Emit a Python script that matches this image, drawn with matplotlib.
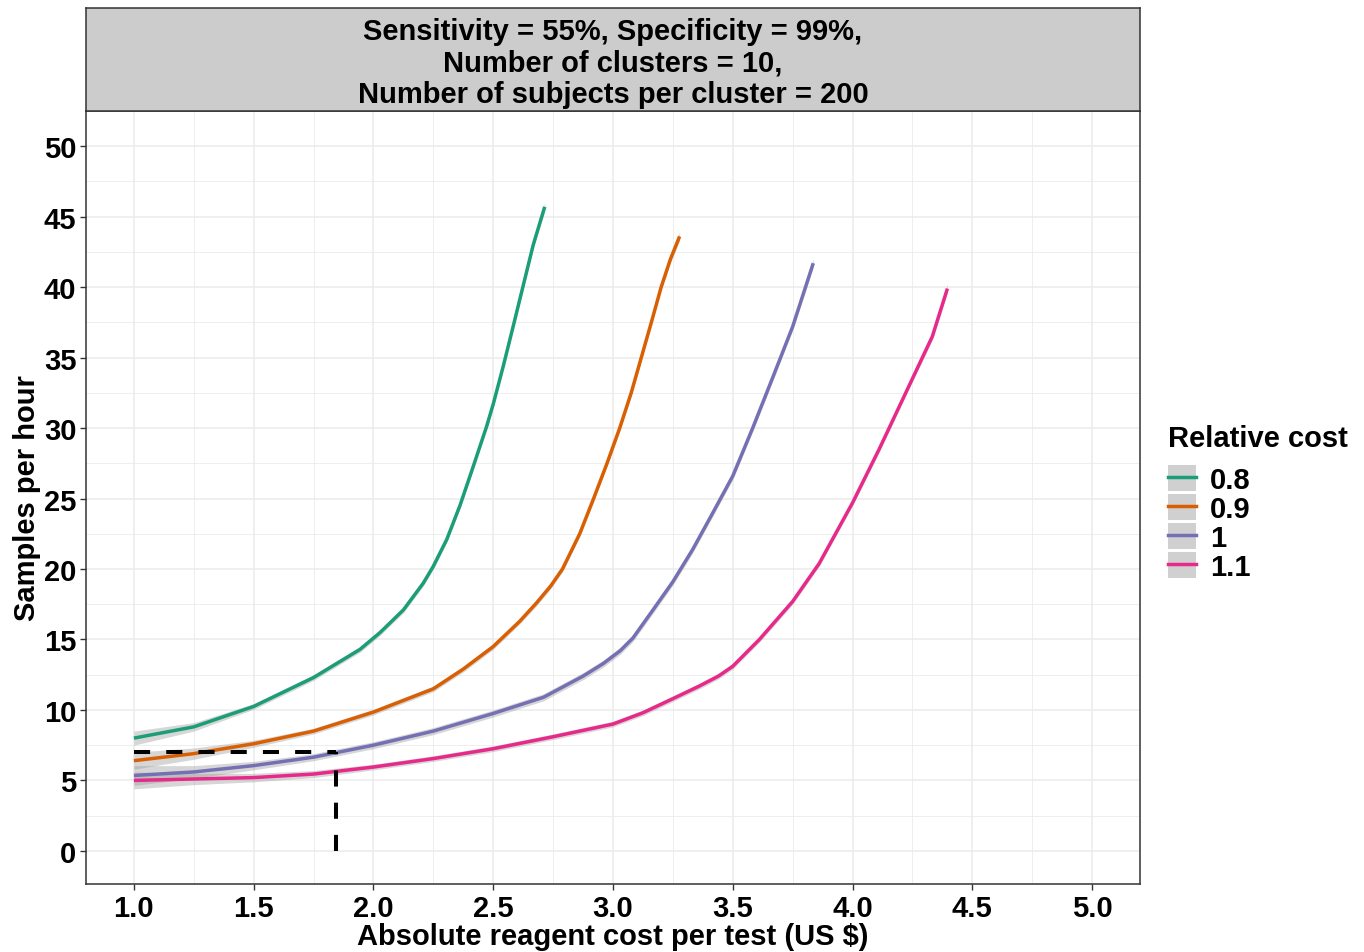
import numpy as np
import matplotlib.pyplot as plt
from matplotlib.lines import Line2D
from matplotlib.patches import Patch

plt.rcParams['font.family'] = ['Liberation Sans', 'DejaVu Sans']
plt.rcParams['font.weight'] = 'bold'

#----------------------------------
# Datos
#----------------------------------

labels = ["0.8", "0.9", "1", "1.1"]
colors = ["#1B9E77", "#D95F02", "#7570B3", "#E7298A"]

x_08 = [1.0, 1.25, 1.5, 1.75, 1.944, 2.028, 2.125, 2.208, 2.25, 2.306,
        2.361, 2.417, 2.472, 2.5, 2.542, 2.583, 2.625, 2.667, 2.715]
y_08 = [8.0, 8.8, 10.25, 12.3, 14.3, 15.5, 17.1, 19.0, 20.2, 22.1,
        24.5, 27.3, 30.1, 31.7, 34.4, 37.2, 40.1, 43.0, 45.7]
se_08 = [0.5, 0.3, 0.2, 0.2, 0.2, 0.2, 0.2, 0.2, 0.2, 0.2,
         0.2, 0.2, 0.2, 0.2, 0.2, 0.2, 0.2, 0.25, 0.3]

x_09 = [1.0, 1.25, 1.5, 1.75, 2.0, 2.25, 2.375, 2.5, 2.611, 2.681, 2.74, 2.789,
        2.861, 2.919, 2.975, 3.028, 3.076, 3.118, 3.160, 3.201, 3.24, 3.278]
y_09 = [6.4, 6.9, 7.6, 8.5, 9.85, 11.5, 12.9, 14.5, 16.3, 17.6, 18.8, 20.0,
        22.5, 25.0, 27.5, 30.0, 32.5, 35.0, 37.5, 40.0, 42.0, 43.6]
se_09 = [0.6, 0.4, 0.25, 0.2, 0.2, 0.2, 0.2, 0.2, 0.2, 0.2, 0.2, 0.2,
         0.2, 0.2, 0.2, 0.2, 0.2, 0.2, 0.2, 0.2, 0.25, 0.3]

x_10 = [1.0, 1.25, 1.5, 1.75, 2.0, 2.25, 2.5, 2.71, 2.875, 2.96, 3.03, 3.083,
        3.167, 3.25, 3.333, 3.417, 3.5, 3.583, 3.667, 3.75, 3.836]
y_10 = [5.35, 5.6, 6.05, 6.65, 7.5, 8.5, 9.75, 10.9, 12.4, 13.3, 14.2, 15.1,
        17.1, 19.1, 21.4, 24.0, 26.6, 30.0, 33.6, 37.2, 41.7]
se_10 = [0.7, 0.45, 0.3, 0.25, 0.25, 0.25, 0.25, 0.25, 0.25, 0.25, 0.25, 0.25,
         0.25, 0.25, 0.25, 0.25, 0.25, 0.25, 0.25, 0.25, 0.3]

x_11 = [1.0, 1.25, 1.5, 1.75, 2.0, 2.25, 2.5, 2.75, 3.0, 3.125, 3.25,
        3.361, 3.44, 3.5, 3.611, 3.75, 3.861, 4.0, 4.111, 4.222, 4.333, 4.396]
y_11 = [5.0, 5.1, 5.2, 5.45, 5.95, 6.55, 7.25, 8.1, 9.0, 9.8, 10.8,
        11.7, 12.4, 13.1, 15.0, 17.7, 20.4, 24.7, 28.5, 32.5, 36.5, 39.9]
se_11 = [0.6, 0.4, 0.3, 0.25, 0.2, 0.2, 0.2, 0.2, 0.2, 0.2, 0.2,
         0.2, 0.2, 0.2, 0.2, 0.2, 0.2, 0.2, 0.2, 0.2, 0.25, 0.3]

series_x = [x_08, x_09, x_10, x_11]
series_y = [y_08, y_09, y_10, y_11]
series_se = [se_08, se_09, se_10, se_11]

# linea de referencia
ref_cost = 1.845
ref_rate = 7.0

x_ticks = [1.0, 1.5, 2.0, 2.5, 3.0, 3.5, 4.0, 4.5, 5.0]
y_ticks = [0, 5, 10, 15, 20, 25, 30, 35, 40, 45, 50]

strip_text = ("Sensitivity = 55%, Specificity = 99%,\n"
              "Number of clusters = 10,\n"
              "Number of subjects per cluster = 200")

#----------------------------------
# Figura
#----------------------------------

W, H = 1364, 953
FS = 21
fig = plt.figure(figsize=(W / 100, H / 100), dpi=100)

left, right, top, bottom = 86, 1140, 112, 885
ax = fig.add_axes([left / W, (H - bottom) / H, (right - left) / W, (bottom - top) / H])
sax = fig.add_axes([left / W, (H - top) / H, (right - left) / W, (top - 9) / H])

for i in range(4):
    x = np.array(series_x[i])
    y = np.array(series_y[i])
    se = np.array(series_se[i])
    ax.fill_between(x, y - se, y + se, color="#999999", alpha=0.4, lw=0, zorder=2)
    ax.plot(x, y, color=colors[i], lw=2.5, zorder=3, solid_capstyle="butt",
            solid_joinstyle="round")

ax.plot([1.0, ref_cost], [ref_rate, ref_rate], color="black", lw=2.9,
        linestyle=(0, (4, 4)), zorder=4, dash_capstyle="butt")
ax.plot([ref_cost, ref_cost], [0, ref_rate], color="black", lw=2.9,
        linestyle=(0, (4, 4)), zorder=4, dash_capstyle="butt")

ax.set_xlim(0.8, 5.2)
ax.set_ylim(-2.35, 52.5)
ax.set_xticks(x_ticks)
ax.set_xticklabels([f"{v:.1f}" for v in x_ticks])
ax.set_yticks(y_ticks)
ax.set_xticks(np.arange(1.25, 5.0, 0.5), minor=True)
ax.set_yticks(np.arange(2.5, 50, 5), minor=True)
ax.grid(which="major", color="#EBEBEB", lw=1.1, zorder=0)
ax.grid(which="minor", color="#EBEBEB", lw=0.6, zorder=0)
ax.set_axisbelow(True)
ax.tick_params(which="major", length=4, width=1, color="#333333",
               labelsize=FS, labelcolor="black", pad=3)
ax.tick_params(which="minor", length=0)
for lab in ax.get_xticklabels() + ax.get_yticklabels():
    lab.set_fontweight("bold")
for s in ax.spines.values():
    s.set_color("#333333")
    s.set_linewidth(1.1)

ax.set_xlabel("Absolute reagent cost per test (US $)", fontsize=FS,
              fontweight="bold", labelpad=0)
ax.set_ylabel("Samples per hour", fontsize=FS, fontweight="bold", labelpad=2)

# strip
sax.set_facecolor("#CCCCCC")
sax.set_xticks([])
sax.set_yticks([])
for s in sax.spines.values():
    s.set_color("#333333")
    s.set_linewidth(1.1)
sax.text(0.5, 0.47, strip_text, ha="center", va="center", fontsize=FS,
         fontweight="bold", linespacing=1.17, transform=sax.transAxes)

# leyenda
handles = [(Patch(facecolor="#D0D0D0", edgecolor="none"),
            Line2D([], [], color=c, lw=2.5)) for c in colors]
leg = fig.legend(handles, labels, title="Relative cost", loc="upper left",
                 bbox_to_anchor=(1168 / W, 1 - 425 / H), frameon=False,
                 fontsize=FS, title_fontsize=FS, handlelength=0.95,
                 handleheight=1.0, labelspacing=0.0, handletextpad=0.5,
                 borderaxespad=0, borderpad=0)
leg.get_title().set_fontweight("bold")
leg._legend_box.align = "left"
leg._legend_box.sep = 9.5
for t in leg.get_texts():
    t.set_fontweight("bold")

fig.savefig("out.png", dpi=100)
